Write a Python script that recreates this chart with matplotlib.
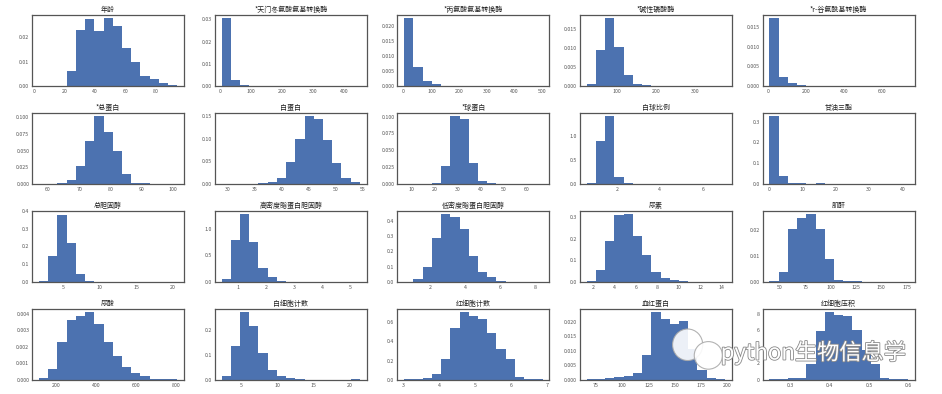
import numpy as np
import matplotlib.pyplot as plt
import matplotlib.patheffects as pe
from matplotlib.patches import Ellipse

plt.rcParams['font.family'] = ['Noto Sans CJK SC', 'DejaVu Sans']

'''data: 20 features, 15 bins each, density heights read off the picture'''
titles = ['年龄', '*天门冬氨酸氨基转换酶', '*丙氨酸氨基转换酶', '*碱性磷酸酶', '*r-谷氨酰基转换酶',
          '*总蛋白', '白蛋白', '*球蛋白', '白球比例', '甘油三酯',
          '总胆固醇', '高密度脂蛋白胆固醇', '低密度脂蛋白胆固醇', '尿素', '肌酐',
          '尿酸', '白细胞计数', '红细胞计数', '血红蛋白', '红细胞压积']

# data min / max of each feature
ranges = [(3.2, 93.9), (5, 450), (2, 500), (25, 376), (8, 737),
          (57.1, 101.3), (28.8, 54.5), (6.8, 66.7), (0.6, 7.04), (0.08, 41.6),
          (1.7, 20.65), (0.43, 5.33), (0.53, 8.42), (1.39, 14.35), (39.7, 176.3),
          (112.5, 803.5), (2.3, 21.4), (3.02, 6.86), (66.2, 198.2), (0.246, 0.599)]

h_age = [0, 0, 0.0001, 0.0063, 0.0231, 0.0276, 0.0225, 0.0278, 0.0246, 0.0158, 0.0098, 0.0039, 0.0029, 0.0011, 0.0002]
h_ast = [0.0305, 0.0028, 0.0006, 0.0001, 0.00005, 0.00003, 0.00002, 0, 0, 0, 0, 0, 0, 0, 0.00002]
h_alt = [0.0225, 0.0063, 0.0016, 0.0005, 0.0001, 0.00005, 0, 0, 0, 0, 0, 0, 0, 0, 0.00002]
h_alp = [0.0006, 0.0095, 0.0179, 0.0102, 0.0030, 0.0006, 0.0002, 0.00005, 0.00003, 0, 0, 0, 0, 0, 0.00002]
h_ggt = [0.0173, 0.0023, 0.0007, 0.0003, 0.0001, 0.00005, 0.00003, 0, 0, 0, 0, 0, 0, 0, 0.00002]
h_tp = [0, 0, 0.0015, 0.006, 0.0276, 0.065, 0.1015, 0.078, 0.050, 0.0146, 0.002, 0.0008, 0.0002, 0, 0.0001]
h_alb = [0.0002, 0.0002, 0.0003, 0.0005, 0.001, 0.004, 0.014, 0.048, 0.100, 0.150, 0.143, 0.097, 0.046, 0.014, 0.005]
h_glb = [0.0001, 0.0001, 0.0001, 0.0008, 0.0269, 0.1005, 0.0965, 0.0308, 0.005, 0.001, 0.0006, 0.0003, 0.0001, 0, 0.0001]
h_ag = [0.01, 0.90, 1.42, 0.15, 0.01, 0.002, 0.001, 0.001, 0, 0, 0, 0, 0, 0, 0.001]
h_tg = [0.326, 0.039, 0.005, 0.002, 0.001, 0.002, 0.0003, 0.0003, 0, 0, 0, 0, 0, 0, 0.0003]
h_tc = [0.004, 0.147, 0.379, 0.218, 0.046, 0.003, 0.0003, 0.0003, 0, 0, 0, 0, 0, 0, 0.0003]
h_hdl = [0.06, 0.78, 1.27, 0.75, 0.26, 0.087, 0.015, 0.003, 0.002, 0.001, 0, 0, 0, 0, 0.001]
h_ldl = [0.002, 0.018, 0.095, 0.289, 0.444, 0.429, 0.347, 0.169, 0.067, 0.029, 0.008, 0.002, 0.0005, 0, 0.0005]
h_urea = [0.006, 0.055, 0.1875, 0.309, 0.3125, 0.214, 0.125, 0.044, 0.016, 0.008, 0.002, 0.0005, 0.0005, 0, 0.0005]
h_cr = [0.0003, 0.0039, 0.0206, 0.0248, 0.0261, 0.0206, 0.0090, 0.0009, 0.0003, 0.0002, 0.0001, 0, 0, 0, 0.00005]
h_ua = [0.00012, 0.00068, 0.0023, 0.0036, 0.0039, 0.0041, 0.0034, 0.0023, 0.00144, 0.00078, 0.00041, 0.00021, 0.00006, 0.00006, 0.00004]
h_wbc = [0.017, 0.137, 0.274, 0.217, 0.11, 0.041, 0.015, 0.007, 0.002, 0.001, 0.0005, 0.0003, 0.0002, 0.0001, 0.002]
h_rbc = [0.01, 0.01, 0.021, 0.063, 0.22, 0.537, 0.705, 0.666, 0.632, 0.484, 0.326, 0.218, 0.025, 0.01, 0.004]
h_hb = [0.0002, 0.0003, 0.0006, 0.0009, 0.0012, 0.0023, 0.0085, 0.0234, 0.0212, 0.0193, 0.0205, 0.0105, 0.0035, 0.0007, 0.0002]
h_hct = [0.05, 0.1, 0.2, 0.25, 1.95, 5.9, 8.2, 7.9, 7.8, 6.0, 3.6, 1.9, 0.25, 0.12, 0.05]

heights = [h_age, h_ast, h_alt, h_alp, h_ggt, h_tp, h_alb, h_glb, h_ag, h_tg,
           h_tc, h_hdl, h_ldl, h_urea, h_cr, h_ua, h_wbc, h_rbc, h_hb, h_hct]

xticks = [[0, 20, 40, 60, 80], [0, 100, 200, 300, 400], [0, 100, 200, 300, 400, 500], [100, 200, 300], [0, 200, 400, 600],
          [60, 70, 80, 90, 100], [30, 35, 40, 45, 50, 55], [10, 20, 30, 40, 50, 60], [2, 4, 6], [0, 10, 20, 30, 40],
          [5, 10, 15, 20], [1, 2, 3, 4, 5], [2, 4, 6, 8], [2, 4, 6, 8, 10, 12, 14], [50, 75, 100, 125, 150, 175],
          [200, 400, 600, 800], [5, 10, 15, 20], [3, 4, 5, 6, 7], [75, 100, 125, 150, 175, 200], [0.3, 0.4, 0.5, 0.6]]
yticks = [[0, 0.01, 0.02], [0, 0.01, 0.02, 0.03], [0, 0.005, 0.01, 0.015, 0.02], [0, 0.005, 0.01, 0.015], [0, 0.005, 0.01, 0.015],
          [0, 0.025, 0.05, 0.075, 0.1], [0, 0.05, 0.1, 0.15], [0, 0.025, 0.05, 0.075, 0.1], [0, 0.5, 1.0], [0, 0.1, 0.2, 0.3],
          [0, 0.1, 0.2, 0.3, 0.4], [0, 0.5, 1.0], [0, 0.1, 0.2, 0.3, 0.4], [0, 0.1, 0.2, 0.3], [0, 0.01, 0.02],
          [0, 0.001, 0.002, 0.003, 0.004], [0, 0.1, 0.2], [0, 0.2, 0.4, 0.6], [0, 0.005, 0.01, 0.015, 0.02], [0, 2, 4, 6, 8]]

'''plot'''
fig, axes = plt.subplots(4, 5, figsize=(9.42, 3.94), dpi=100)
fig.subplots_adjust(left=0.034, right=0.971, top=0.962, bottom=0.036, wspace=0.2, hspace=0.38)

for i, ax in enumerate(axes.flat):
    lo, hi = ranges[i]
    edges = np.linspace(lo, hi, len(heights[i]) + 1)
    ax.hist(edges[:-1], bins=edges, weights=heights[i], color='#4C72B0')
    ax.set_xticks(xticks[i])
    ax.set_yticks(yticks[i])
    ax.set_title(titles[i], fontsize=5, color='#222222', pad=2)
    ax.tick_params(length=0, labelsize=3.8, colors='#555555', pad=2)
    for s in ax.spines.values():
        s.set_color('#555555')
        s.set_linewidth(0.9)

# watermark
for cx, cy, w, h in [(0.73, 0.125, 0.032, 0.08), (0.752, 0.098, 0.03, 0.07)]:
    fig.patches.append(Ellipse((cx, cy), w, h, transform=fig.transFigure, facecolor='white',
                               edgecolor='#aaaaaa', linewidth=0.8, alpha=0.9))
fig.text(0.765, 0.105, 'python生物信息学', fontsize=16, color='white',
         va='center', ha='left',
         path_effects=[pe.withStroke(linewidth=1.2, foreground='#8a8a8a')])

plt.savefig('out.png', dpi=100)
